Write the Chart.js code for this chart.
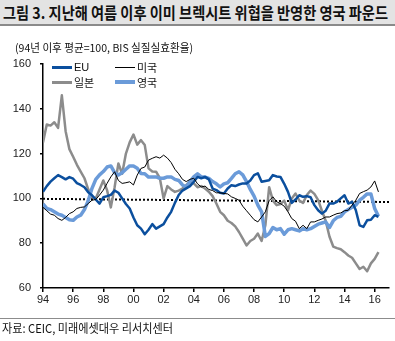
<!DOCTYPE html>
<html><head><meta charset="utf-8">
<script src="https://cdn.jsdelivr.net/npm/chart.js@4.4.0/dist/chart.umd.min.js"></script>
<style>
html,body{margin:0;padding:0;background:#fff;}
#wrap{position:relative;width:395px;height:341px;overflow:hidden;font-family:"Noto Sans CJK KR","Noto Sans",sans-serif;color:#111;}
#titlebar{position:absolute;left:0;top:0;width:395px;height:24px;background:#e3e3e3;border-bottom:2px solid #8a8a8a;}
#title{position:absolute;left:3px;top:1px;font-weight:bold;font-size:16px;line-height:22px;white-space:nowrap;transform-origin:0 50%;}
#sub{position:absolute;left:15px;top:40px;font-size:11px;line-height:15px;white-space:nowrap;transform-origin:0 50%;}
#srcline{position:absolute;left:0;top:318px;width:395px;height:1px;background:#8c8c8c;}
#src{position:absolute;left:2px;top:320px;font-size:12px;line-height:15px;white-space:nowrap;transform-origin:0 50%;}
canvas{position:absolute;left:0;top:0;}
.sw{position:absolute;width:20px;}
.lt{position:absolute;font-size:11px;line-height:13px;white-space:nowrap;}
</style></head>
<body>
<div id="wrap">
  <canvas id="c" width="395" height="341"></canvas>
  <div id="titlebar"><span id="title">그림 3. 지난해 여름 이후 이미 브렉시트 위협을 반영한 영국 파운드</span></div>
  <div id="sub">(94년 이후 평균=100, BIS 실질실효환율)</div>
  <div class="sw" style="left:52px;top:66px;height:3px;background:#0B4F9E"></div>
  <div class="lt" style="left:74px;top:61px;font-family:'Liberation Sans',Arial,sans-serif;">EU</div>
  <div class="sw" style="left:115px;top:67px;height:1px;background:#000"></div>
  <div class="lt" style="left:137px;top:61px;">미국</div>
  <div class="sw" style="left:52px;top:81px;height:3px;background:#8C8C8C"></div>
  <div class="lt" style="left:74px;top:76px;">일본</div>
  <div class="sw" style="left:115px;top:80px;height:4px;background:#6B9BD9"></div>
  <div class="lt" style="left:137px;top:76px;">영국</div>
  <div id="srcline"></div>
  <div id="src">자료: CEIC, 미래에셋대우 리서치센터</div>
</div>
<script>
// quarterly observations, 1994Q1 .. 2016Q2
const euVals = [103,105.5,107.5,109, 110.4,109.5,108.5,109.5, 108.8,106.8,106,105, 102.7,101.4,99.5,97.7,
  100.5,101,101.6,103.5, 102.5,100,97.5,95.5, 91.5,88,86.5,84, 86,88.5,86.5,87.5, 88.5,91.5,94,98,
  101.5,103.5,104.5,105.5, 107.4,109.6,109,109.6, 108.5,104.4,103.7,102.5, 102.2,104.4,105.9,105.5,
  106.2,106.7,106.7,108, 110.4,111.2,107.4,107.8, 108.1,110.4,109.8,109.6, 106.5,102.9,98,99.5,
  101.4,100.7,101,100.5, 97,94.7,93.2,94.5, 97.7,97.7,98.5,100, 101.4,97.7,98.5,94.7, 88,87.3,90.2,90.5, 92.5,91.7];
const usVals = [96,94.5,93,92.5, 91,90.2,91.5,93.2, 94,95.5,96,96.2, 97.7,99.2,99.5,101.5,
  103.7,106.7,109.6,111.9, 108,106.7,107,107.4, 106,110.4,113.4,114, 117.1,117.9,118.6,118, 119.3,118,116,113,
  111,108.5,107.5,108.5, 109,106.5,105.1,105.5, 104,103.5,102.5,102.5, 102.2,102,100.7,100,
  99.2,96.5,94.5,92.5, 90.5,89.5,91.7,94, 99,100.7,98.5,97.7, 96.5,94,91,89.8,
  86.5,88,86.5,89.5, 89.5,90.2,90.8,91.7, 91.7,92.5,93.2,93.5, 94.5,94.7,97,99.2, 102.2,103,103.7,105.1, 107.8,102.9];
const jpVals = [125,133,132.5,134, 131.5,146,130,122, 118.6,115,112,109, 104,100.7,100,104,
  108,103.7,96,105, 115.6,111,120,125, 128.5,124,126,123.8, 113.4,112,111.9,109, 100,105.5,104,102.9,
  103.5,104.4,105.9,107.5, 106.7,105,105.5,104.4, 103,101,97.7,94, 92.5,90,89,87.5,
  85,82,79,81, 82,84.3,81,88, 105,99,97,97.5, 99,94.7,100,102.2,
  99,98,101.5,103.5, 102,99.2,94.5,90, 83,78.5,77.8,77.3, 76,74.5,73.5,71, 68.5,69.5,67.5,71, 73,76];
const ukVals = [97.5,95.5,95,94, 93,92.5,91.5,90.5, 90.2,91.7,92.5,95, 99,104.5,108.5,110.5,
  112,114,114.5,111.5, 110.5,111.5,113,114.5, 114.5,113.5,111.1,111, 109.5,109.6,109.6,109, 109,109.6,109.6,108.5,
  108,106,105.1,107.5, 109.6,111,109.6,109.5, 108.9,107.5,106.5,105.1, 106.5,107,108.9,111,
  111.9,110.5,107.5,104, 101,97,94,83, 84.3,87,86,86.5, 84,86,86.5,86,
  85.5,86.5,86,86.5, 87.5,88.5,89,89.5, 87,90,91.5,92, 94,95,96,97, 99.2,100.5,102,102, 95.5,92];
const refYears = [1994, 2016.95];
const refVals = [99.8, 98.4];
const xTickYears = [1994,1996,1998,2000,2002,2004,2006,2008,2010,2012,2014,2016];
const xTickLabels = ['94','96','98','00','02','04','06','08','10','12','14','16'];
const yTicks = [60,80,100,120,140,160];

const quarters = euVals.map((_, i) => 1994 + i * 0.25);
const pts = vals => vals.map((v, i) => ({x: quarters[i], y: v}));
const tickFont = {family: "'Liberation Sans', Arial, sans-serif", size: 11};

new Chart(document.getElementById('c'), {
  type: 'line',
  data: {datasets: [
    {label: '미국', data: pts(usVals), borderColor: '#000', borderWidth: 1, order: 1},
    {label: 'EU', data: pts(euVals), borderColor: '#0B4F9E', borderWidth: 2.5, order: 2},
    {label: '영국', data: pts(ukVals), borderColor: '#6B9BD9', borderWidth: 3.5, order: 3},
    {label: '일본', data: pts(jpVals), borderColor: '#8C8C8C', borderWidth: 2.5, order: 4},
    {label: 'avg', data: refVals.map((v, i) => ({x: refYears[i], y: v})), borderColor: '#000', borderWidth: 2, borderDash: [2, 2], order: 5}
  ]},
  options: {
    responsive: false, animation: false, devicePixelRatio: 1,
    layout: {padding: {left: 0, top: 64, right: 6, bottom: 33}},
    elements: {point: {radius: 0}, line: {tension: 0, borderJoinStyle: 'round', fill: false}},
    plugins: {legend: {display: false}, tooltip: {enabled: false}},
    scales: {
      x: {type: 'linear', min: 1994, max: 2016.95,
        afterBuildTicks: s => { s.ticks = xTickYears.map(v => ({value: v})); },
        ticks: {callback: (v, i) => xTickLabels[i], autoSkip: false, maxRotation: 0, padding: 1, font: tickFont, color: '#222'},
        grid: {drawOnChartArea: false, tickLength: 4, color: '#000', lineWidth: 1.5},
        border: {color: '#000', width: 1.5},
        afterFit: s => { s.height = 20; }},
      y: {min: 60, max: 160,
        afterBuildTicks: s => { s.ticks = yTicks.map(v => ({value: v})); },
        ticks: {padding: 9, font: tickFont, color: '#222'},
        grid: {drawOnChartArea: false, tickLength: 3, color: '#000', lineWidth: 1.5},
        border: {color: '#000', width: 1.5},
        afterFit: s => { s.width = 43; }}
    }
  }
});

function fit(id, w) {
  const el = document.getElementById(id);
  const r = el.getBoundingClientRect().width;
  el.style.transform = 'scaleX(' + (w / r) + ')';
}
fit('title', 385);
fit('sub', 178);
fit('src', 171);
</script>
</body></html>
